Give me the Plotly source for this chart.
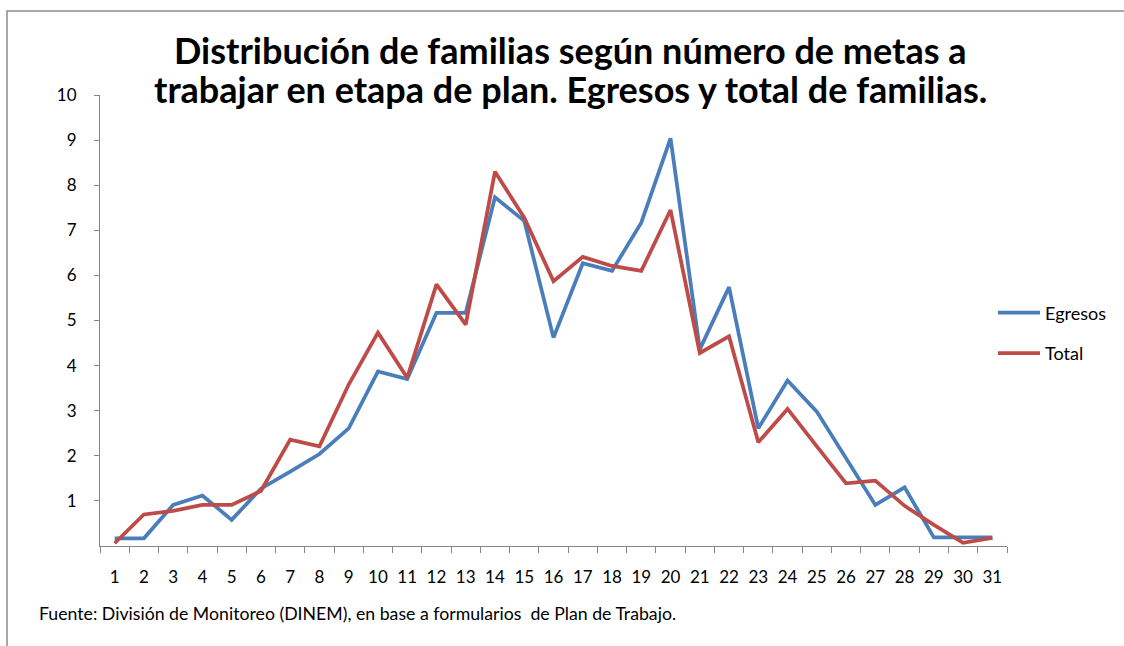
import plotly.graph_objects as go

categorias = [str(i) for i in range(1, 32)]
egresos = [0.17, 0.17, 0.91, 1.12, 0.58, 1.27, 1.65, 2.04, 2.61, 3.87,
           3.70, 5.17, 5.17, 7.73, 7.21, 4.62, 6.27, 6.10, 7.17, 9.04,
           4.36, 5.74, 2.61, 3.67, 2.98, 1.93, 0.91, 1.30, 0.19, 0.19, 0.19]
total = [0.06, 0.70, 0.78, 0.91, 0.91, 1.22, 2.36, 2.21, 3.58, 4.73,
         3.73, 5.80, 4.91, 8.30, 7.28, 5.87, 6.41, 6.21, 6.10, 7.45,
         4.28, 4.65, 2.30, 3.04, 2.21, 1.39, 1.45, 0.89, 0.47, 0.07, 0.18]
y_ticks = [1, 2, 3, 4, 5, 6, 7, 8, 9, 10]

titulo_1 = "<b>Distribución de familias según número de metas a</b>"
titulo_2 = "<b>trabajar en etapa de plan. Egresos y total de familias.</b>"
fuente = "Fuente: División de Monitoreo (DINEM), en base a formularios  de Plan de Trabajo."

FONT = "Lato, 'Open Sans', sans-serif"
W, H = 1124, 646
L, R, T, B = 100, 1007, 95, 546

fig = go.Figure()
fig.add_trace(go.Scatter(x=categorias, y=egresos, mode="lines", name="Egresos",
                         line=dict(color="#4A7EBB", width=3.75), legendgroup="a"))
fig.add_trace(go.Scatter(x=categorias, y=total, mode="lines", name="Total",
                         line=dict(color="#BE4B48", width=3.75), legendgroup="b"))

pw, ph = R - L, B - T
def px(x):
    return (x - L) / pw
def py(y):
    return (B - y) / ph

fig.update_layout(
    width=W, height=H,
    margin=dict(l=L, r=W - R, t=T, b=H - B, autoexpand=False),
    paper_bgcolor="white", plot_bgcolor="white",
    font=dict(family=FONT, size=17, color="black"),
    xaxis=dict(type="category", range=[-0.5, 30.5], showgrid=False, showline=True,
               linecolor="#868686", linewidth=1, ticks="outside", tickson="boundaries",
               ticklen=6, tickcolor="#868686", ticklabelstandoff=16, zeroline=False,
               tickfont=dict(size=17)),
    yaxis=dict(range=[0, 10], tickvals=y_ticks, showgrid=False, showline=True,
               linecolor="#868686", linewidth=1, ticks="outside", ticklen=5,
               tickcolor="#868686", ticklabelstandoff=14, zeroline=False,
               tickfont=dict(size=17)),
    legend=dict(x=px(993), y=py(333), xanchor="left", yanchor="middle",
                traceorder="grouped", tracegroupgap=14, bgcolor="rgba(0,0,0,0)",
                font=dict(size=18), itemwidth=42),
    showlegend=True,
)

for texto, yc in ((titulo_1, 50), (titulo_2, 89)):
    fig.add_annotation(text=texto, x=px(570), y=py(yc), xref="paper", yref="paper",
                       xanchor="center", yanchor="middle", showarrow=False,
                       font=dict(family=FONT, size=36, color="black"))

fig.add_annotation(text=fuente, x=px(37), y=py(613), xref="paper", yref="paper",
                   xanchor="left", yanchor="middle", showarrow=False,
                   font=dict(family=FONT, size=17.7, color="black"))

fig.add_shape(type="path", xref="paper", yref="paper",
              path=f"M {px(7)} {py(700)} L {px(7)} {py(11)} L {px(1200)} {py(11)}",
              line=dict(color="#8C8C8C", width=1.5))

fig.write_html("out.html", config={"displayModeBar": False},
               post_script="document.body.style.margin='0';document.body.style.overflow='hidden';")
